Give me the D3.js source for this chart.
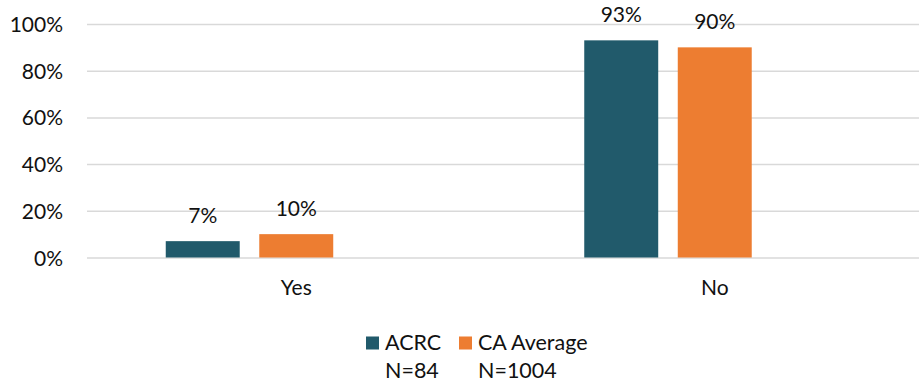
<!DOCTYPE html>
<html>
<head>
<meta charset="utf-8">
<script src="https://cdn.jsdelivr.net/npm/d3@7"></script>
<style>
  html, body { margin: 0; padding: 0; background: #fff; }
  svg { display: block; }
  text { font-family: Lato, "Open Sans", sans-serif; fill: #111; }
</style>
</head>
<body>
<svg id="chart" width="919" height="383"></svg>
<script>
const categories = ["Yes", "No"];
const seriesNames = ["ACRC", "CA Average"];
const seriesN = ["N=84", "N=1004"];
const acrcValues = [0.07, 0.93];
const caValues = [0.10, 0.90];
const yTicks = [0, 0.2, 0.4, 0.6, 0.8, 1.0];
const colors = ["#215a6b", "#ed7d31"];

const seriesValues = [acrcValues, caValues];
// Excel layout reserves a third (empty) slot in each group
const slots = [...seriesNames, "_empty"];

const FS = 21;
const svg = d3.select("#chart");
const plot = { left: 87, right: 924, top: 24, bottom: 257.5 };

const x0 = d3.scaleBand().domain(categories).range([plot.left, plot.right]).padding(0);
const groupOuter = 78.75;
const x1 = d3.scaleBand().domain(slots)
  .range([groupOuter, x0.bandwidth() - groupOuter])
  .paddingInner(0.209).paddingOuter(0);
const y = d3.scaleLinear().domain([0, 1]).range([plot.bottom, plot.top]);

// gridlines
const yAxis = d3.axisLeft(y).tickValues(yTicks)
  .tickFormat(d3.format(".0%"))
  .tickSize(-(919 - plot.left)).tickPadding(24);
const gy = svg.append("g").attr("transform", `translate(${plot.left},0)`).call(yAxis);
gy.select(".domain").remove();
gy.selectAll(".tick line").attr("stroke", "#d9d9d9").attr("stroke-width", 1.5);
gy.selectAll(".tick text").attr("font-size", FS).attr("fill", "#111")
  .attr("dy", "0.36em");

// x axis labels
const xAxis = d3.axisBottom(x0).tickSize(0).tickPadding(22.5);
const gx = svg.append("g").attr("transform", `translate(0,${plot.bottom})`).call(xAxis);
gx.select(".domain").remove();
gx.selectAll(".tick text").attr("font-size", FS).attr("fill", "#111")
  .attr("dy", "0.71em");

// bars
const rows = categories.map((c, i) => ({ cat: c, vals: seriesNames.map((s, j) => ({ s, j, v: seriesValues[j][i] })) }));
const groups = svg.append("g").selectAll("g").data(rows).join("g")
  .attr("transform", d => `translate(${x0(d.cat)},0)`);
groups.selectAll("rect").data(d => d.vals).join("rect")
  .attr("x", d => x1(d.s))
  .attr("width", x1.bandwidth())
  .attr("y", d => y(d.v))
  .attr("height", d => y(0) - y(d.v))
  .attr("fill", d => colors[d.j]);
groups.selectAll("text.lbl").data(d => d.vals).join("text")
  .attr("class", "lbl")
  .attr("x", d => x1(d.s) + x1.bandwidth() / 2)
  .attr("y", d => y(d.v) - 18)
  .attr("text-anchor", "middle")
  .attr("font-size", FS)
  .text(d => d3.format(".0%")(d.v));

// legend
const legendX = [366, 459];
const leg = svg.append("g");
seriesNames.forEach((s, j) => {
  const g = leg.append("g").attr("transform", `translate(${legendX[j]},0)`);
  g.append("rect").attr("x", 0).attr("y", 336.5).attr("width", 13).attr("height", 13).attr("fill", colors[j]);
  g.append("text").attr("x", 19).attr("y", 349.5).attr("font-size", FS + 0.5).text(s);
  g.append("text").attr("x", 19).attr("y", 378).attr("font-size", FS + 0.5).text(seriesN[j]);
});
</script>
</body>
</html>
